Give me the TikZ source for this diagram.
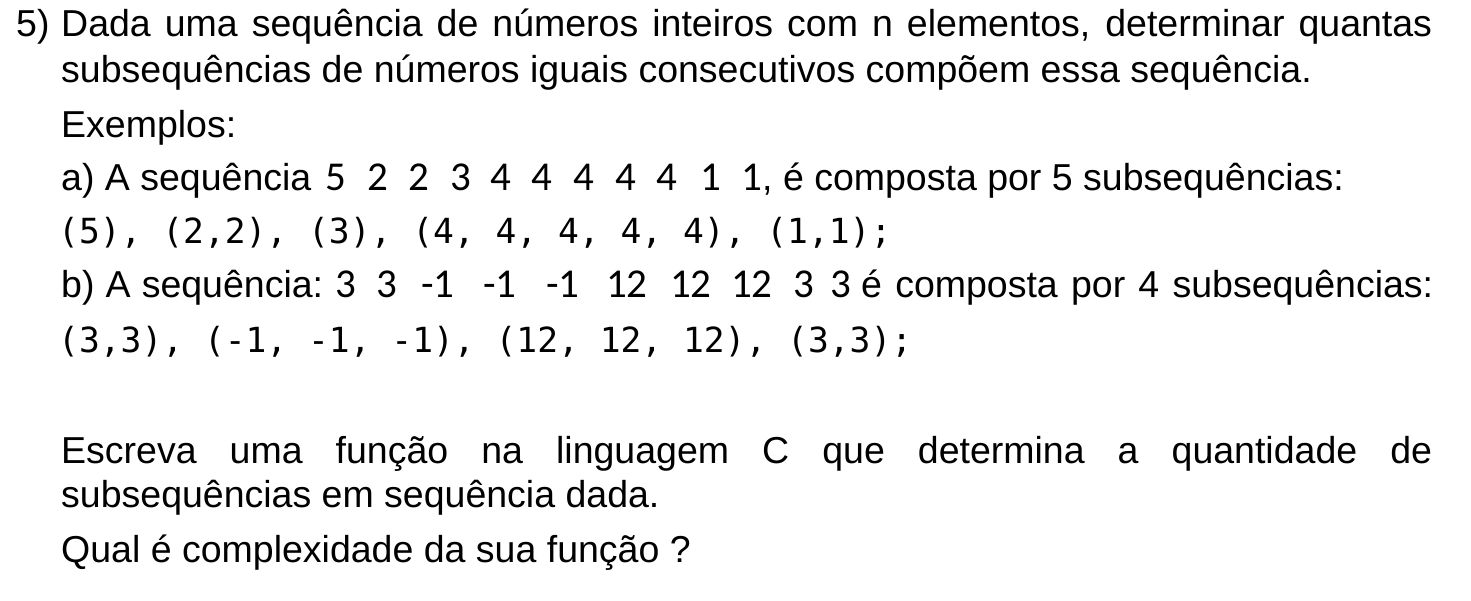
\documentclass[tikz,border=0pt]{standalone}
\usepackage{fontspec}
\setmainfont{Liberation Sans}
\setmonofont{DejaVu Sans Mono}
\newfontfamily\numfont{Carlito}
\begin{document}
\begin{tikzpicture}[x=1pt,y=-1pt,
  txt/.style={anchor=base west,inner sep=0pt,font=\fontsize{37.5}{45}\selectfont},
  num/.style={txt,font=\numfont\fontsize{41}{45}\selectfont},
  code/.style={txt,font=\ttfamily\fontsize{34.6}{40}\selectfont}]
  \useasboundingbox (0,0) rectangle (1471,600);
  % Statement
  \node[txt] (nr)   at (16,36)  {5)};
  \node[txt] (st1)  at (61,36)  {\makebox[1371pt][s]{Dada uma sequência de números inteiros com n elementos, determinar quantas}};
  \node[txt] (st2)  at (61,82)  {subsequências de números iguais consecutivos compõem essa sequência.};
  \node[txt] (exs)  at (61,137) {Exemplos:};
  % Example a
  \node[txt] (a1)   at (61,190) {a) A sequência};
  \foreach \x/\t [count=\i] in {327/5,369/2,410/2,452/3,492/4,533/4,575/4,617/4,658/4,702/1,743/1}
    \node[num] (na\i) at (\x-2,190) {\t};
  \node[txt] (a2)   at (762,190) {, é composta por 5 subsequências:};
  \node[code] (ca)  at (58,243) {(5), (2,2), (3), (4, 4, 4, 4, 4), (1,1);};
  % Example b
  \node[txt] (b1)   at (61,297) {\makebox[262pt][s]{b) A sequência:}};
  \foreach \x/\t [count=\i] in {337/3,378/3,423/-1,485/-1,548/-1,608/12,672/12,733/12,795/3,832/3}
    \node[num] (nb\i) at (\x-2,297) {\t};
  \node[txt] (b2)   at (861,297) {\makebox[572pt][s]{é composta por 4 subsequências:}};
  \node[code] (cb)  at (58,352) {(3,3), (-1, -1, -1), (12, 12, 12), (3,3);};
  % Task
  \node[txt] (tk1)  at (61,463) {\makebox[1371pt][s]{Escreva uma função na linguagem C que determina a quantidade de}};
  \node[txt] (tk2)  at (61,507) {subsequências em sequência dada.};
  \node[txt] (tk3)  at (61,562) {Qual é complexidade da sua função ?};
\end{tikzpicture}
\end{document}
